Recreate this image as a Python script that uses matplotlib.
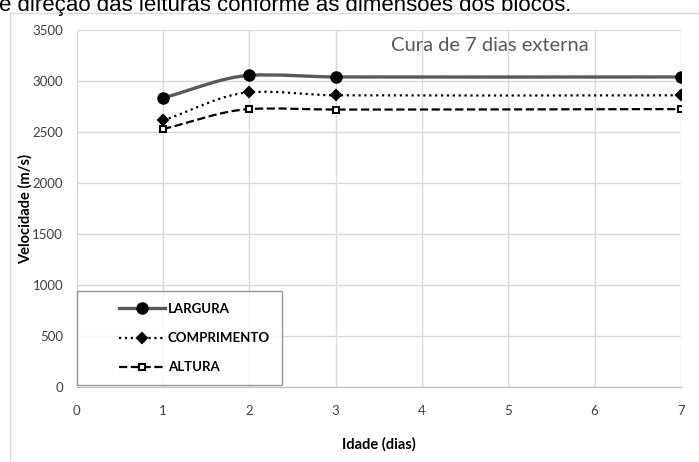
import numpy as np
import matplotlib.pyplot as plt
from matplotlib.path import Path
from matplotlib.patches import PathPatch, Rectangle
from matplotlib.lines import Line2D
from matplotlib.legend_handler import HandlerLine2D

plt.rcParams['font.family'] = ['Lato', 'DejaVu Sans']

idade = [1, 2, 3, 7]
largura = [2835, 3055, 3040, 3040]
comprimento = [2615, 2890, 2860, 2860]
altura = [2530, 2725, 2720, 2725]

xticks = [0, 1, 2, 3, 4, 5, 6, 7]
yticks = [0, 500, 1000, 1500, 2000, 2500, 3000, 3500]


def smooth_path(x, y, k=0.5):
    # lightly smoothed line (cubic bezier through the points)
    x = np.asarray(x, float)
    y = np.asarray(y, float)
    n = len(x)
    slopes = []
    for i in range(n):
        a = max(i - 1, 0)
        b = min(i + 1, n - 1)
        kk = 1.0 if i in (0, n - 1) else k
        slopes.append(kk * (y[b] - y[a]) / (x[b] - x[a]))
    verts = [(x[0], y[0])]
    codes = [Path.MOVETO]
    for i in range(n - 1):
        h = (x[i + 1] - x[i]) / 3.0
        verts += [(x[i] + h, y[i] + slopes[i] * h),
                  (x[i + 1] - h, y[i + 1] - slopes[i + 1] * h),
                  (x[i + 1], y[i + 1])]
        codes += [Path.CURVE4] * 3
    return Path(verts, codes)


fig = plt.figure(figsize=(6.99, 4.62), dpi=100)
ax = fig.add_axes([0.110, 0.1623, 0.864, 0.7727])

# outer chart border
fig.patches.append(Rectangle((10 / 699, -0.05), 0.99, 1 - 13 / 462 + 0.05,
                             transform=fig.transFigure, fill=False,
                             edgecolor='#d9d9d9', linewidth=1.0))
fig.text(-0.002, 1 - 11 / 462, 'e direção das leituras conforme as dimensões dos blocos.',
         family='Liberation Sans', fontsize=16, color='black', ha='left', va='baseline')

series = [
    (largura, '-', 'o', 7.5, 'black', '#595959', 2.4, 'LARGURA'),
    (comprimento, ':', 'D', 5.5, 'black', 'black', 1.6, 'COMPRIMENTO'),
    (altura, '--', 's', 5, 'white', 'black', 1.6, 'ALTURA'),
]

handles = []
for vals, ls, mk, ms, mfc, lc, lw, lab in series:
    patch = PathPatch(smooth_path(idade, vals), fill=False, edgecolor=lc,
                      linewidth=lw, linestyle=ls, zorder=3)
    ax.add_patch(patch)
    ax.plot(idade, vals, linestyle='none', marker=mk, markersize=ms,
            markerfacecolor=mfc, markeredgecolor='black', markeredgewidth=1.5, zorder=4)
    handles.append(Line2D([], [], linestyle=ls, color=lc, linewidth=lw, marker=mk,
                          markersize=ms, markerfacecolor=mfc, markeredgecolor='black',
                          markeredgewidth=1.5))

ax.set_xlim(0, 7)
ax.set_ylim(0, 3500)
ax.set_xticks(xticks)
ax.set_yticks(yticks)
ax.grid(True, color='#d9d9d9', linewidth=1.0)
ax.set_axisbelow(True)
for s in ['top', 'right', 'left']:
    ax.spines[s].set_visible(False)
ax.spines['bottom'].set_color('#bfbfbf')
ax.tick_params(length=0, labelsize=9.5, colors='#404040')
ax.tick_params(axis='x', pad=13)
ax.tick_params(axis='y', pad=10)

ax.set_xlabel('Idade (dias)', fontsize=10.5, fontweight='bold')
ax.set_ylabel('Velocidade (m/s)', fontsize=10.5, fontweight='bold')
ax.xaxis.set_label_coords(0.5, -0.14)
ax.yaxis.set_label_coords(-0.073, 0.5)

ax.text(0.684, 0.957, 'Cura de 7 dias externa', transform=ax.transAxes,
        fontsize=14.5, color='#595959', ha='center', va='center')

hmap = {h: HandlerLine2D(xpad=2.3) for h in handles}
leg = ax.legend(handles, [s[-1] for s in series], loc='lower left',
                bbox_to_anchor=(0.0, 0.005), fontsize=9.5, frameon=True,
                fancybox=False, edgecolor='#7f7f7f', handlelength=5.8,
                labelspacing=1.3, borderpad=0.9, handletextpad=0.2,
                borderaxespad=0, handler_map=hmap)
leg.get_frame().set_linewidth(1.0)
for t in leg.get_texts():
    t.set_fontweight('bold')

fig.savefig('out.png', dpi=100)
